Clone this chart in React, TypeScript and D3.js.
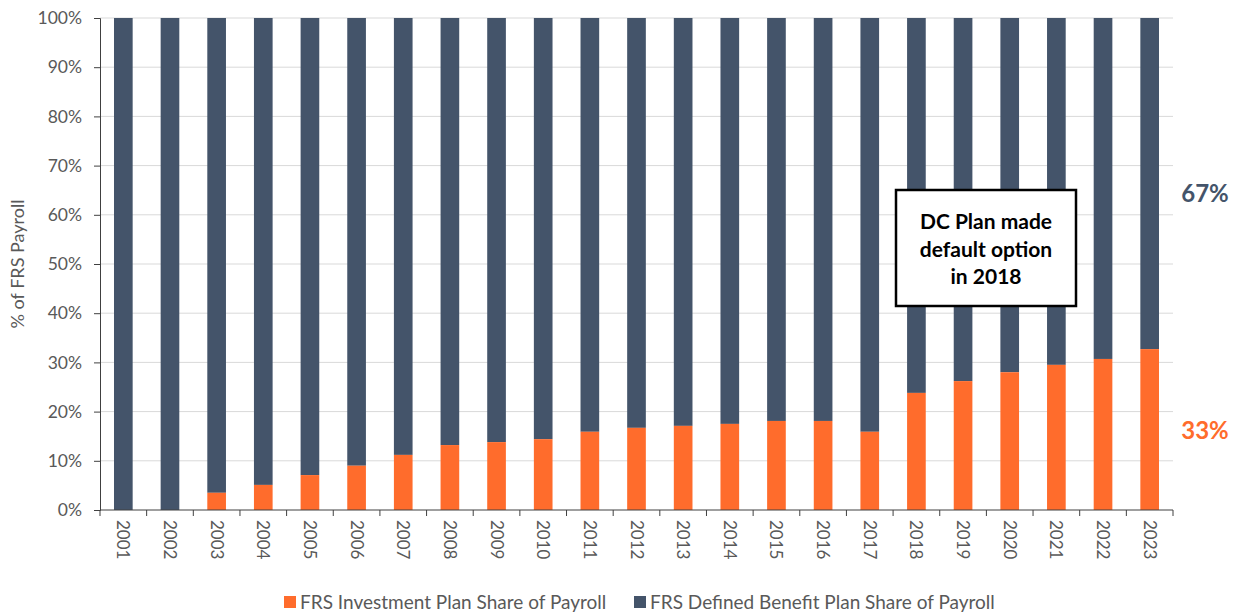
import * as d3 from "d3";
import { useEffect, useRef } from "react";

const years = [
  "2001", "2002", "2003", "2004", "2005", "2006", "2007", "2008", "2009", "2010", "2011", "2012",
  "2013", "2014", "2015", "2016", "2017", "2018", "2019", "2020", "2021", "2022", "2023",
];
// FRS Investment Plan share (%)
const investShare = [
  0, 0, 3.5, 5.1, 7.1, 9.0, 11.2, 13.2, 13.8, 14.4, 15.9, 16.7,
  17.1, 17.5, 18.1, 18.1, 15.9, 23.8, 26.2, 28.0, 29.5, 30.7, 32.7,
];
const dbShare = investShare.map((v) => 100 - v);
const yTicks = [0, 10, 20, 30, 40, 50, 60, 70, 80, 90, 100];
const seriesNames = ["FRS Investment Plan Share of Payroll", "FRS Defined Benefit Plan Share of Payroll"];
const annotationLines = ["DC Plan made", "default option", "in 2018"];

const W = 1243;
const H = 614;
const ORANGE = "#FF6C2C";
const NAVY = "#44546A";
const GRAY = "#595959";
const FONT = "Lato, 'Open Sans', sans-serif";

const draw = (el: SVGSVGElement) => {
  const svg = d3.select(el);
  svg.selectAll("*").remove();

  const left = 100;
  const right = 1173;
  const top = 18;
  const bottom = 510;

  const x = d3.scaleBand().domain(years).range([left, right]).paddingInner(0.6).paddingOuter(0.3);
  const y = d3.scaleLinear().domain([0, 100]).range([bottom, top]);

  // grid
  svg
    .append("g")
    .selectAll("line")
    .data(yTicks.filter((t) => t > 0))
    .join("line")
    .attr("x1", left)
    .attr("x2", right)
    .attr("y1", (d) => y(d))
    .attr("y2", (d) => y(d))
    .attr("stroke", "#d9d9d9")
    .attr("stroke-width", 1);

  const rows = years.map((yr, i) => ({ yr, a: investShare[i], b: dbShare[i] }));

  // bars
  const g = svg.append("g");
  g.selectAll("rect.db")
    .data(rows)
    .join("rect")
    .attr("class", "db")
    .attr("x", (d) => x(d.yr)!)
    .attr("width", x.bandwidth())
    .attr("y", y(100))
    .attr("height", (d) => y(d.a) - y(100))
    .attr("fill", NAVY);
  g.selectAll("rect.ip")
    .data(rows)
    .join("rect")
    .attr("class", "ip")
    .attr("x", (d) => x(d.yr)!)
    .attr("width", x.bandwidth())
    .attr("y", (d) => y(d.a))
    .attr("height", (d) => y(0) - y(d.a))
    .attr("fill", ORANGE);

  // y axis
  const yAxis = svg
    .append("g")
    .attr("transform", `translate(${left},0)`)
    .call(d3.axisLeft(y).tickValues(yTicks).tickSize(6).tickFormat((d) => `${d}%`));
  yAxis.select(".domain").attr("stroke", "#404040");
  yAxis.selectAll(".tick line").attr("stroke", "#404040");
  yAxis
    .selectAll("text")
    .attr("font-family", FONT)
    .attr("font-size", 17.5)
    .attr("fill", GRAY)
    .attr("x", -18);

  // x axis
  const step = x.step();
  const boundaries = d3.range(years.length + 1).map((i) => left + x.paddingOuter() * step - (x.paddingInner() * step) / 2 + i * step);
  const xa = svg.append("g");
  xa.append("line")
    .attr("x1", left)
    .attr("x2", right)
    .attr("y1", bottom)
    .attr("y2", bottom)
    .attr("stroke", "#404040");
  xa.selectAll("line.t")
    .data(boundaries)
    .join("line")
    .attr("class", "t")
    .attr("x1", (d) => d)
    .attr("x2", (d) => d)
    .attr("y1", bottom)
    .attr("y2", bottom + 6)
    .attr("stroke", "#404040");
  xa.selectAll("text")
    .data(years)
    .join("text")
    .attr("transform", (d) => `translate(${x(d)! + x.bandwidth() / 2 - 6},${bottom + 10}) rotate(90)`)
    .attr("font-family", FONT)
    .attr("font-size", 17)
    .attr("fill", GRAY)
    .text((d) => d);

  // y title
  svg
    .append("text")
    .attr("transform", `translate(24,${(top + bottom) / 2}) rotate(-90)`)
    .attr("text-anchor", "middle")
    .attr("font-family", FONT)
    .attr("font-size", 18)
    .attr("fill", GRAY)
    .text("% of FRS Payroll");

  // end labels
  const last = rows[rows.length - 1];
  svg
    .append("text")
    .attr("x", 1205)
    .attr("y", y(63.8))
    .attr("text-anchor", "middle")
    .attr("dominant-baseline", "middle")
    .attr("font-family", FONT)
    .attr("font-weight", 700)
    .attr("font-size", 24)
    .attr("fill", NAVY)
    .text(`${Math.round(last.b)}%`);
  svg
    .append("text")
    .attr("x", 1205)
    .attr("y", y(15.6))
    .attr("text-anchor", "middle")
    .attr("dominant-baseline", "middle")
    .attr("font-family", FONT)
    .attr("font-weight", 700)
    .attr("font-size", 24)
    .attr("fill", ORANGE)
    .text(`${Math.round(last.a)}%`);

  // annotation
  const ann = svg.append("g");
  ann.append("rect")
    .attr("x", 896)
    .attr("y", 190)
    .attr("width", 180)
    .attr("height", 116)
    .attr("fill", "white")
    .attr("stroke", "black")
    .attr("stroke-width", 2.5);
  ann.selectAll("text")
    .data(annotationLines)
    .join("text")
    .attr("x", 986)
    .attr("y", (_, i) => 229 + i * 27.5)
    .attr("text-anchor", "middle")
    .attr("font-family", FONT)
    .attr("font-weight", 700)
    .attr("font-size", 21)
    .attr("fill", "black")
    .text((d) => d);

  // legend
  const leg = svg.append("g");
  const legX = [284, 634];
  const colors = [ORANGE, NAVY];
  seriesNames.forEach((name, i) => {
    leg.append("rect")
      .attr("x", legX[i])
      .attr("y", 596)
      .attr("width", 12)
      .attr("height", 12)
      .attr("fill", colors[i]);
    leg.append("text")
      .attr("x", legX[i] + 16)
      .attr("y", 609)
      .attr("font-family", FONT)
      .attr("font-size", 19)
      .attr("fill", GRAY)
      .text(name);
  });
};

export default function App() {
  const ref = useRef<SVGSVGElement>(null);
  useEffect(() => {
    if (!ref.current) return;
    draw(ref.current);
  }, []);
  return (
    <svg
      ref={ref}
      width={W}
      height={H}
      style={{ position: "absolute", left: 0, top: 0, background: "white" }}
    />
  );
}
